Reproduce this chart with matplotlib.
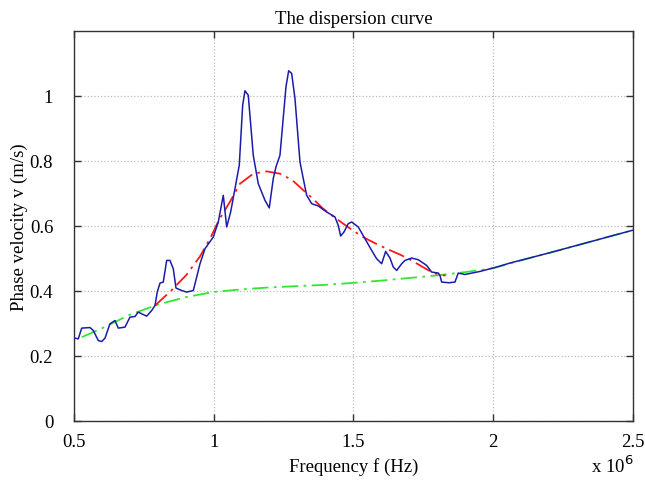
"""
Dispersion curve: measured phase velocity vs frequency with two model fits
"""
import numpy as np
import matplotlib
matplotlib.use('Agg')
import matplotlib.pyplot as plt

plt.rcParams['font.family'] = ['Liberation Serif', 'DejaVu Serif']

# ── Data (frequency in units of 1e6 Hz) ──────────────────────────────────────
f_meas = [0.5036, 0.5154, 0.5276, 0.5573, 0.5691, 0.5870, 0.5991, 0.6110, 0.6288,
          0.6467, 0.6586, 0.6825, 0.7004, 0.7183, 0.7301, 0.7423, 0.7602, 0.7781,
          0.7899, 0.7981, 0.8078, 0.8196, 0.8318, 0.8436, 0.8554, 0.8651, 0.8855,
          0.9034, 0.9270, 0.9392, 0.9510, 0.9689, 0.9986, 1.0165, 1.0344, 1.0466,
          1.0608, 1.0762, 1.0916, 1.1038, 1.1120, 1.1238, 1.1417, 1.1596, 1.1836,
          1.1990, 1.2133, 1.2230, 1.2373, 1.2588, 1.2684, 1.2792, 1.2910, 1.3089,
          1.3207, 1.3329, 1.3508, 1.3744, 1.4044, 1.4341, 1.4459, 1.4545, 1.4664,
          1.4817, 1.4939, 1.5175, 1.5415, 1.5655, 1.5834, 1.6013, 1.6156, 1.6310,
          1.6428, 1.6550, 1.6729, 1.6847, 1.7087, 1.7323, 1.7624, 1.7803, 1.8039,
          1.8100, 1.8160, 1.8432, 1.8636, 1.8754, 1.8994, 1.9531, 2.0129, 2.0605,
          2.2000, 2.3500, 2.5000]
v_meas = [0.2549, 0.2527, 0.2857, 0.2875, 0.2783, 0.2475, 0.2444, 0.2549, 0.2989,
          0.3091, 0.2857, 0.2888, 0.3196, 0.3214, 0.3350, 0.3297, 0.3226, 0.3399,
          0.3553, 0.3966, 0.4243, 0.4274, 0.4940, 0.4940, 0.4684, 0.4089, 0.4015,
          0.3966, 0.4015, 0.4428, 0.4838, 0.5300, 0.5661, 0.6123, 0.6943, 0.5969,
          0.6431, 0.7149, 0.7867, 0.9717, 1.0160, 1.0025, 0.8176, 0.7304, 0.6789,
          0.6555, 0.7458, 0.7818, 0.8176, 1.0284, 1.0777, 1.0693, 0.9923, 0.7972,
          0.7458, 0.6943, 0.6687, 0.6616, 0.6431, 0.6277, 0.6018, 0.5692, 0.5815,
          0.6071, 0.6123, 0.5969, 0.5609, 0.5248, 0.4992, 0.4838, 0.5217, 0.5014,
          0.4737, 0.4632, 0.4838, 0.4940, 0.5014, 0.4961, 0.4786, 0.4582, 0.4552,
          0.4478, 0.4274, 0.4253, 0.4274, 0.4552, 0.4508, 0.4601, 0.4736, 0.4860,
          0.5170, 0.5520, 0.5870]

f_fit1 = [0.790, 0.850, 0.903, 0.950, 0.987, 1.020, 1.058, 1.094, 1.142, 1.190,
          1.237, 1.280, 1.321, 1.360, 1.392, 1.430, 1.464, 1.500, 1.541, 1.580,
          1.619, 1.667, 1.700, 1.738, 1.786, 1.830]
v_fit1 = [0.355, 0.403, 0.450, 0.505, 0.561, 0.620, 0.674, 0.730, 0.761, 0.768,
          0.761, 0.742, 0.710, 0.680, 0.653, 0.628, 0.607, 0.585, 0.563, 0.546,
          0.530, 0.512, 0.498, 0.479, 0.455, 0.447]

f_fit2 = [0.528, 0.600, 0.700, 0.800, 0.900, 1.000, 1.100, 1.200, 1.300, 1.400,
          1.500, 1.600, 1.700, 1.800, 1.900, 2.000, 2.100, 2.200, 2.300, 2.400, 2.500]
v_fit2 = [0.258, 0.285, 0.327, 0.358, 0.381, 0.397, 0.405, 0.411, 0.415, 0.419,
          0.425, 0.432, 0.440, 0.448, 0.458, 0.470, 0.494, 0.517, 0.540, 0.564, 0.587]

# ── Figure ───────────────────────────────────────────────────────────────────
FS = 13.5
fig = plt.figure(figsize=(6.45, 4.81), dpi=100)
ax = fig.add_axes([0.1147, 0.1227, 0.8663, 0.8108])

ax.plot(f_fit2, v_fit2, color='#33e633', lw=1.3, ls=(0, (9, 3, 1.5, 3)), zorder=2)
ax.plot(f_fit1, v_fit1, color='#ff1a1a', lw=1.3, ls=(0, (9, 3, 1.5, 3)), zorder=2)
ax.plot(f_meas, v_meas, color='#1c1caa', lw=1.1, zorder=3)

ax.set_xlim(0.5, 2.5)
ax.set_ylim(0, 1.2)
ax.set_xticks([0.5, 1, 1.5, 2, 2.5])
ax.set_xticklabels(['0.5', '1', '1.5', '2', '2.5'])
ax.set_yticks([0, 0.2, 0.4, 0.6, 0.8, 1.0])
ax.set_yticklabels(['0', '0.2', '0.4', '0.6', '0.8', '1'])
ax.tick_params(direction='in', top=True, right=True, length=5, width=1,
               color='#333333', labelsize=FS)
ax.tick_params(axis='y', pad=15)
ax.tick_params(axis='x', pad=9)
ax.grid(True, color='#bbbbbb', ls=':', lw=0.9)
for s in ax.spines.values():
    s.set_color('#333333')
    s.set_linewidth(1.0)

ax.set_title('The dispersion curve', fontsize=FS, pad=6)
ax.set_xlabel('Frequency f (Hz)', fontsize=FS, labelpad=5)
ax.set_ylabel('Phase velocity v (m/s)', fontsize=FS, labelpad=1)
fig.text(0.917, 0.008, r'x 10$^{6}$', fontsize=FS, ha='left', va='bottom')

plt.savefig('out.png', dpi=100)
plt.close()
